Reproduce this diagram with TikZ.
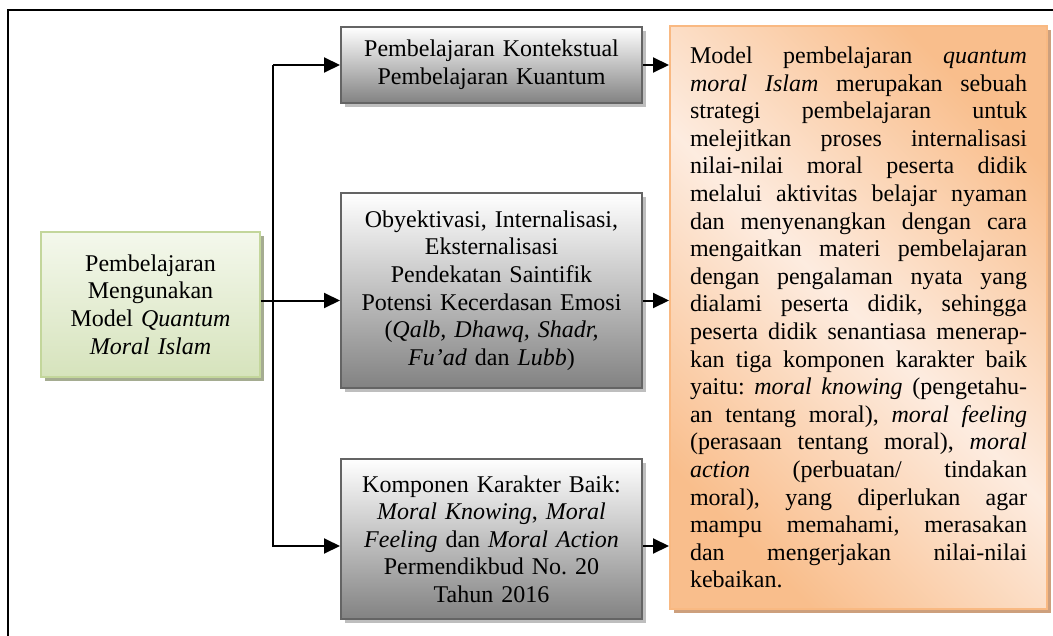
\documentclass[tikz,border=0pt]{standalone}
\usepackage{fontspec}
\setmainfont{Liberation Serif}
\usepackage{tikz}
\usetikzlibrary{arrows.meta, shadows}
\definecolor{greytop}{RGB}{255, 255, 255}
\definecolor{greybot}{RGB}{130, 130, 130}
\definecolor{greyline}{RGB}{100, 100, 100}
\definecolor{greyshade}{RGB}{190, 190, 190}
\definecolor{greentop}{RGB}{244, 248, 236}
\definecolor{greenbot}{RGB}{214, 227, 188}
\definecolor{greenline}{RGB}{195, 214, 155}
\definecolor{greenshade}{RGB}{165, 172, 145}
\definecolor{peach}{RGB}{253, 236, 224}
\definecolor{orng}{RGB}{249, 190, 140}
\definecolor{orngline}{RGB}{249, 185, 130}
\definecolor{orngshade}{RGB}{205, 160, 125}
\pgfdeclareverticalshading{orangeband}{100bp}{color(0bp)=(orng); color(25bp)=(orng); color(50bp)=(peach); color(75bp)=(orng); color(100bp)=(orng)}
\frenchspacing

\begin{document}
\begin{tikzpicture}[x=0.5pt, y=-0.5pt,
  every node/.style={font=\fontsize{12pt}{13.8pt}\selectfont, inner sep=0pt},
  greybox/.style={draw=greyline, line width=1pt, top color=greytop, bottom color=greybot,
    minimum width=150.5pt, text width=140pt, align=center,
    drop shadow={shadow xshift=2pt, shadow yshift=-2pt, fill=greyshade, opacity=1}},
  greenbox/.style={draw=greenline, line width=1pt, top color=greentop, bottom color=greenbot,
    minimum width=109.5pt, minimum height=72.5pt, text width=100pt, align=center,
    drop shadow={shadow xshift=2pt, shadow yshift=-2pt, fill=greenshade, opacity=1}},
  orangebox/.style={draw=orngline, line width=1pt, shading=orangeband, shading angle=-45,
    minimum width=188.5pt, minimum height=291.5pt, text width=168.5pt, align=justify,
    drop shadow={shadow xshift=2pt, shadow yshift=-2pt, fill=orngshade, opacity=1}},
  arr/.style={-{Triangle[length=8pt, width=7.5pt]}, line width=1pt}]

  \useasboundingbox (0, 0) rectangle (1053, 636);

  % frame, only top and left edges are inside the picture
  \draw[line width=1.2pt] (8, 660) -- (8, 10) -- (1070, 10);

  \node[greenbox] (model) at (150.5, 304.5)
    {Pembelajaran\\ Mengunakan\\ Model \textit{Quantum}\\ \textit{Moral Islam}};

  \node[greybox, minimum height=38pt] (kontekstual) at (491.5, 65)
    {Pembelajaran Kontekstual\\ Pembelajaran Kuantum};
  \node[greybox, minimum height=97.5pt] (obyektivasi) at (491.5, 290.5)
    {Obyektivasi, Internalisasi,\\ Eksternalisasi\\ Pendekatan Saintifik\\
     Potensi Kecerdasan Emosi\\ (\textit{Qalb, Dhawq, Shadr,}\\ \textit{Fu'ad} dan \textit{Lubb})};
  \node[greybox, minimum height=80pt] (komponen) at (491.5, 539)
    {Komponen Karakter Baik:\\ \textit{Moral Knowing}, \textit{Moral}\\
     \textit{Feeling} dan \textit{Moral Action}\\ Permendikbud No. 20\\ Tahun 2016};

  \node[orangebox] (uraian) at (858.5, 317.5)
    {\tolerance=10000 \exhyphenpenalty=10000
     Model pembelajaran \textit{quantum}\linebreak
     \textit{moral Islam} merupakan sebuah\linebreak
     strategi pembelajaran untuk\linebreak
     melejitkan proses internalisasi\linebreak
     nilai-nilai moral peserta didik\linebreak
     melalui aktivitas belajar nyaman\linebreak
     dan menyenangkan dengan cara\linebreak
     mengaitkan materi pembelajaran\linebreak
     dengan pengalaman nyata yang\linebreak
     dialami peserta didik, sehingga\linebreak
     peserta didik senantiasa menerap-\linebreak
     kan tiga komponen karakter baik\linebreak
     yaitu: \textit{moral knowing} (pengetahu-\linebreak
     an tentang moral), \textit{moral feeling}\linebreak
     (perasaan tentang moral), \textit{moral}\linebreak
     \textit{action} (perbuatan/ tindakan\linebreak
     moral), yang diperlukan agar\linebreak
     mampu memahami, merasakan\linebreak
     dan mengerjakan nilai-nilai\linebreak
     kebaikan.};

  % branches
  \coordinate (trunk) at (273, 0);
  \draw[arr] (trunk |- kontekstual.west) -- (kontekstual.west);
  \draw[arr] (trunk |- kontekstual.west) |- ([yshift=-3.5pt]komponen.west);
  \draw[arr] ([yshift=2pt]model.east) -- ([yshift=2pt]model.east -| obyektivasi.west);

  \draw[arr] (kontekstual.east) -- (kontekstual.east -| uraian.west);
  \draw[arr] ([yshift=2pt]model.east -| obyektivasi.east) -- ([yshift=2pt]model.east -| uraian.west);
  \draw[arr] ([yshift=-3.5pt]komponen.east) -- ([yshift=-3.5pt]komponen.east -| uraian.west);

\end{tikzpicture}
\end{document}
